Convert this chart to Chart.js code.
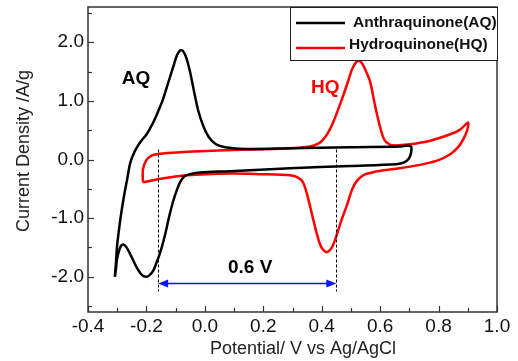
<!DOCTYPE html>
<html lang="en">
<head>
<meta charset="UTF-8">
<title>CV curves</title>
<script src="https://cdn.jsdelivr.net/npm/chart.js"></script>
<style>
  html, body { margin: 0; padding: 0; background: #fff; }
</style>
</head>
<body>
<canvas id="cvChart" width="518" height="361"></canvas>
<script>
// Anthraquinone loop: anodic sweep from -0.3 V up to 0.7 V, then back
const aqPotential = [
  -0.308, -0.304, -0.301, -0.294, -0.287, -0.277, -0.266, -0.256, -0.242, -0.222,
  -0.198, -0.177, -0.160, -0.143, -0.126, -0.109, -0.095, -0.085, -0.075, -0.064,
  -0.051, -0.037, -0.023, -0.006, 0.014, 0.038, 0.069, 0.138, 0.292, 0.497,
  0.668, 0.692, 0.706, 0.706, 0.699, 0.682, 0.655, 0.497, 0.292, 0.086,
  -0.016, -0.051, -0.071, -0.085, -0.095, -0.109, -0.123, -0.136, -0.150, -0.164,
  -0.177, -0.191, -0.201, -0.215, -0.232, -0.249, -0.263, -0.273, -0.280, -0.287,
  -0.294, -0.301, -0.304, -0.308
];
const aqCurrent = [
  -2.00, -1.74, -1.50, -1.20, -0.94, -0.63, -0.34, -0.07, 0.12, 0.29,
  0.44, 0.63, 0.82, 1.03, 1.30, 1.57, 1.78, 1.86, 1.85, 1.74,
  1.50, 1.16, 0.84, 0.58, 0.38, 0.26, 0.21, 0.18, 0.19, 0.21,
  0.22, 0.24, 0.22, 0.12, 0.02, -0.05, -0.08, -0.11, -0.15, -0.20,
  -0.22, -0.25, -0.29, -0.39, -0.51, -0.72, -0.99, -1.28, -1.54, -1.74,
  -1.90, -1.98, -2.00, -1.97, -1.85, -1.68, -1.54, -1.47, -1.45, -1.47,
  -1.56, -1.71, -1.85, -2.00
];

// Hydroquinone loop: -0.21 V up to 0.9 V and back
const hqPotential = [
  -0.212, -0.212, -0.201, -0.181, -0.153, -0.016, 0.155, 0.292, 0.360, 0.388,
  0.405, 0.422, 0.439, 0.456, 0.473, 0.490, 0.504, 0.518, 0.528, 0.538,
  0.552, 0.566, 0.583, 0.600, 0.614, 0.631, 0.651, 0.703, 0.771, 0.840,
  0.874, 0.901, 0.898, 0.884, 0.867, 0.840, 0.795, 0.727, 0.634, 0.583,
  0.542, 0.521, 0.504, 0.487, 0.466, 0.449, 0.436, 0.422, 0.412, 0.398,
  0.384, 0.367, 0.350, 0.336, 0.319, 0.292, 0.189, 0.086, -0.061, -0.164,
  -0.212
];
const hqCurrent = [
  -0.39, -0.17, -0.02, 0.07, 0.10, 0.14, 0.17, 0.19, 0.22, 0.27,
  0.34, 0.46, 0.63, 0.85, 1.08, 1.33, 1.54, 1.66, 1.68, 1.64,
  1.50, 1.32, 0.91, 0.55, 0.34, 0.26, 0.24, 0.26, 0.32, 0.43,
  0.51, 0.63, 0.50, 0.34, 0.21, 0.09, -0.02, -0.10, -0.17, -0.21,
  -0.27, -0.36, -0.51, -0.77, -1.06, -1.32, -1.49, -1.57, -1.57, -1.49,
  -1.28, -0.94, -0.60, -0.39, -0.31, -0.27, -0.25, -0.24, -0.27, -0.34,
  -0.39
];

const seriesNames = ['Anthraquinone(AQ)', 'Hydroquinone(HQ)'];
const seriesColors = ['#000000', '#ff0000'];
const xTicks = [-0.4, -0.2, 0.0, 0.2, 0.4, 0.6, 0.8, 1.0];
const yTicks = [-2.0, -1.0, 0.0, 1.0, 2.0];

// potential window between the two redox couples
const gapEdges = [-0.16, 0.45];
const gapLabel = '0.6 V';

const FONT = '"Liberation Sans", Arial, sans-serif';

function toPoints(xs, ys) {
  return xs.map((v, i) => ({ x: v, y: ys[i] }));
}

const decor = {
  id: 'decor',
  afterDraw(chart) {
    const { ctx, chartArea: a, scales: { x, y } } = chart;
    ctx.save();

    // dashed guide lines at the gap edges
    ctx.strokeStyle = '#000';
    ctx.lineWidth = 1;
    ctx.setLineDash([3, 2]);
    gapEdges.forEach(v => {
      const px = Math.round(x.getPixelForValue(v)) + 0.5;
      ctx.beginPath();
      ctx.moveTo(px, y.getPixelForValue(0.17));
      ctx.lineTo(px, y.getPixelForValue(-2.25));
      ctx.stroke();
    });
    ctx.setLineDash([]);

    // double headed arrow
    const ay = Math.round(y.getPixelForValue(-2.1)) + 0.5;
    const x0 = x.getPixelForValue(gapEdges[0]);
    const x1 = x.getPixelForValue(gapEdges[1]);
    ctx.strokeStyle = '#0a14ff';
    ctx.fillStyle = '#0a14ff';
    ctx.lineWidth = 1.5;
    ctx.beginPath();
    ctx.moveTo(x0 + 8, ay);
    ctx.lineTo(x1 - 8, ay);
    ctx.stroke();
    ctx.beginPath();
    ctx.moveTo(x0, ay); ctx.lineTo(x0 + 10, ay - 4); ctx.lineTo(x0 + 10, ay + 4); ctx.closePath();
    ctx.fill();
    ctx.beginPath();
    ctx.moveTo(x1, ay); ctx.lineTo(x1 - 10, ay - 4); ctx.lineTo(x1 - 10, ay + 4); ctx.closePath();
    ctx.fill();

    // peak labels
    ctx.font = 'bold 19px ' + FONT;
    ctx.textAlign = 'center';
    ctx.textBaseline = 'middle';
    ctx.fillStyle = '#000';
    ctx.fillText('AQ', x.getPixelForValue(-0.236), y.getPixelForValue(1.37));
    ctx.fillStyle = '#ff0000';
    ctx.fillText('HQ', x.getPixelForValue(0.412), y.getPixelForValue(1.23));
    ctx.fillStyle = '#000';
    ctx.fillText(gapLabel, x.getPixelForValue(0.155), y.getPixelForValue(-1.85));

    // plot frame
    ctx.strokeStyle = '#333';
    ctx.lineWidth = 1.5;
    ctx.strokeRect(a.left, a.top, a.right - a.left, a.bottom - a.top);

    // inward ticks, majors and minors
    ctx.lineWidth = 1.2;
    for (let v = -0.4; v <= 1.0001; v += 0.1) {
      const px = Math.round(x.getPixelForValue(v)) + 0.5;
      const major = Math.abs(Math.round(v * 10) % 2) === 0;
      ctx.beginPath();
      ctx.moveTo(px, a.bottom);
      ctx.lineTo(px, a.bottom - (major ? 6 : 4));
      ctx.stroke();
    }
    for (let v = -2.5; v <= 2.5001; v += 0.5) {
      const py = Math.round(y.getPixelForValue(v)) + 0.5;
      const major = Math.abs(Math.round(v * 2) % 2) === 0;
      ctx.beginPath();
      ctx.moveTo(a.left, py);
      ctx.lineTo(a.left + (major ? 6 : 4), py);
      ctx.stroke();
    }

    // legend box in the top right corner
    const lx = a.right - 207, ly = a.top;
    ctx.fillStyle = '#fff';
    ctx.fillRect(lx, ly, 207, 53);
    ctx.strokeStyle = '#222';
    ctx.lineWidth = 1;
    ctx.strokeRect(lx + 0.5, ly + 0.5, 207, 53);
    const rows = [
      { lineY: ly + 16, textY: ly + 16, textX: lx + 63 },
      { lineY: ly + 41, textY: ly + 38, textX: lx + 59 }
    ];
    ctx.font = 'bold 15.5px ' + FONT;
    ctx.textAlign = 'left';
    ctx.textBaseline = 'middle';
    rows.forEach((r, i) => {
      ctx.strokeStyle = seriesColors[i];
      ctx.lineWidth = 2.5;
      ctx.beginPath();
      ctx.moveTo(lx + 6, r.lineY);
      ctx.lineTo(lx + 55, r.lineY);
      ctx.stroke();
      ctx.fillStyle = '#111';
      ctx.fillText(seriesNames[i], r.textX, r.textY);
    });

    // axis titles
    ctx.fillStyle = '#222';
    ctx.font = '18px ' + FONT;
    ctx.textAlign = 'center';
    ctx.textBaseline = 'alphabetic';
    ctx.fillText('Potential/ V vs Ag/AgCl', 303, 354);
    ctx.translate(29, 151);
    ctx.rotate(-Math.PI / 2);
    ctx.fillText('Current Density /A/g', 0, 0);

    ctx.restore();
  }
};

new Chart(document.getElementById('cvChart'), {
  type: 'scatter',
  data: {
    datasets: [
      {
        label: seriesNames[0],
        data: toPoints(aqPotential, aqCurrent),
        borderColor: seriesColors[0],
        borderWidth: 2.5,
        showLine: true,
        pointRadius: 0,
        tension: 0.3
      },
      {
        label: seriesNames[1],
        data: toPoints(hqPotential, hqCurrent),
        borderColor: seriesColors[1],
        borderWidth: 2.5,
        showLine: true,
        pointRadius: 0,
        tension: 0.3
      }
    ]
  },
  options: {
    responsive: false,
    animation: false,
    devicePixelRatio: 1,
    layout: { padding: { top: 7, right: 21, left: 0, bottom: 0 } },
    plugins: {
      legend: { display: false },
      tooltip: { enabled: false }
    },
    scales: {
      x: {
        type: 'linear',
        min: -0.4,
        max: 1.0,
        afterBuildTicks: s => { s.ticks = xTicks.map(v => ({ value: v })); },
        afterFit: s => { s.height = 49; s.paddingLeft = 0; s.paddingRight = 0; },
        grid: { display: false, drawTicks: false },
        border: { display: false },
        ticks: {
          padding: 3,
          color: '#111',
          font: { family: FONT, size: 19 },
          maxRotation: 0,
          callback: v => Number(v).toFixed(1)
        }
      },
      y: {
        type: 'linear',
        min: -2.6,
        max: 2.6,
        afterBuildTicks: s => { s.ticks = yTicks.map(v => ({ value: v })); },
        afterFit: s => { s.width = 88; s.paddingTop = 0; s.paddingBottom = 0; },
        grid: { display: false, drawTicks: false },
        border: { display: false },
        ticks: {
          padding: 4,
          color: '#111',
          font: { family: FONT, size: 19 },
          callback: v => Number(v).toFixed(1)
        }
      }
    }
  },
  plugins: [decor]
});
</script>
</body>
</html>
